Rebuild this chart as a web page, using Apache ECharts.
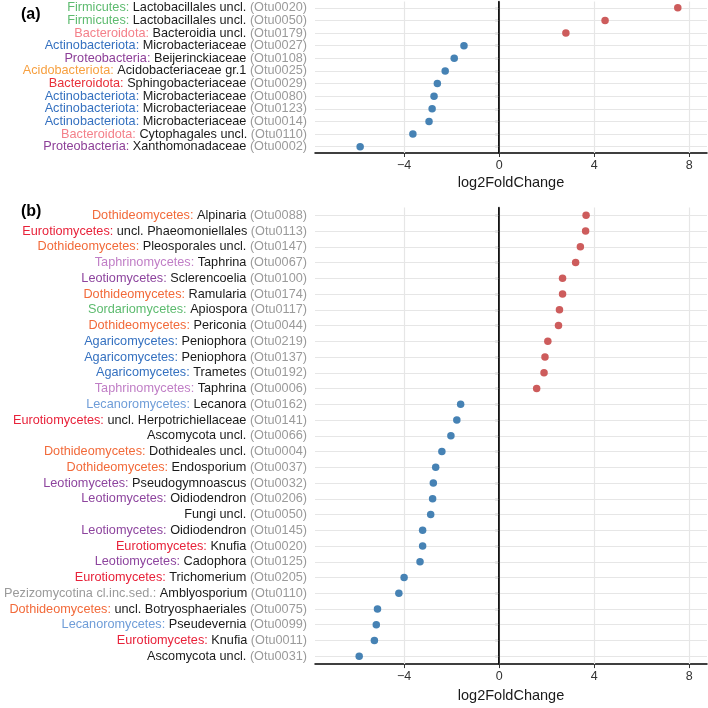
<!DOCTYPE html>
<html>
<head>
<meta charset="utf-8">
<script src="https://cdn.jsdelivr.net/npm/echarts@6/dist/echarts.min.js"></script>
<style>html,body{margin:0;padding:0;background:#fff}#c{width:708px;height:708px}</style>
</head>
<body>
<div id="c"></div>
<script>
// ---------- data: panel (a) ----------
const aClass = ['Firmicutes','Firmicutes','Bacteroidota','Actinobacteriota','Proteobacteria','Acidobacteriota','Bacteroidota','Actinobacteriota','Actinobacteriota','Actinobacteriota','Bacteroidota','Proteobacteria'];
const aTaxon = ['Lactobacillales uncl.','Lactobacillales uncl.','Bacteroidia uncl.','Microbacteriaceae','Beijerinckiaceae','Acidobacteriaceae gr.1','Sphingobacteriaceae','Microbacteriaceae','Microbacteriaceae','Microbacteriaceae','Cytophagales uncl.','Xanthomonadaceae'];
const aOtu = ['Otu0020','Otu0050','Otu0179','Otu0027','Otu0108','Otu0025','Otu0029','Otu0080','Otu0123','Otu0014','Otu0110','Otu0002'];
const aLfc = [7.52,4.46,2.81,-1.48,-1.89,-2.27,-2.60,-2.74,-2.82,-2.95,-3.63,-5.85];

// ---------- data: panel (b) ----------
const bClass = ['Dothideomycetes','Eurotiomycetes','Dothideomycetes','Taphrinomycetes','Leotiomycetes','Dothideomycetes','Sordariomycetes','Dothideomycetes','Agaricomycetes','Agaricomycetes','Agaricomycetes','Taphrinomycetes','Lecanoromycetes','Eurotiomycetes','','Dothideomycetes','Dothideomycetes','Leotiomycetes','Leotiomycetes','','Leotiomycetes','Eurotiomycetes','Leotiomycetes','Eurotiomycetes','Pezizomycotina cl.inc.sed.','Dothideomycetes','Lecanoromycetes','Eurotiomycetes',''];
const bTaxon = ['Alpinaria','uncl. Phaeomoniellales','Pleosporales uncl.','Taphrina','Sclerencoelia','Ramularia','Apiospora','Periconia','Peniophora','Peniophora','Trametes','Taphrina','Lecanora','uncl. Herpotrichiellaceae','Ascomycota uncl.','Dothideales uncl.','Endosporium','Pseudogymnoascus','Oidiodendron','Fungi uncl.','Oidiodendron','Knufia','Cadophora','Trichomerium','Amblyosporium','uncl. Botryosphaeriales','Pseudevernia','Knufia','Ascomycota uncl.'];
const bOtu = ['Otu0088','Otu0113','Otu0147','Otu0067','Otu0100','Otu0174','Otu0117','Otu0044','Otu0219','Otu0137','Otu0192','Otu0006','Otu0162','Otu0141','Otu0066','Otu0004','Otu0037','Otu0032','Otu0206','Otu0050','Otu0145','Otu0020','Otu0125','Otu0205','Otu0110','Otu0075','Otu0099','Otu0011','Otu0031'];
const bLfc = [3.66,3.64,3.42,3.22,2.67,2.67,2.54,2.50,2.05,1.93,1.89,1.58,-1.62,-1.78,-2.03,-2.41,-2.67,-2.77,-2.80,-2.88,-3.22,-3.22,-3.33,-4.00,-4.22,-5.12,-5.17,-5.25,-5.89];

const xTicks = [-4, 0, 4, 8];
const xLimits = [-7.75, 8.75];
const xTitle = 'log2FoldChange';

// ---------- styles ----------
const aLabelColors = ['#5dbb6f','#5dbb6f','#f4808a','#3571c0','#8d3f98','#f7a040','#e8303a','#3571c0','#3571c0','#3571c0','#f4808a','#8d3f98'];
const bClassColors = {
  'Dothideomycetes':'#f26a3a','Eurotiomycetes':'#e8223a','Taphrinomycetes':'#c07ec6',
  'Leotiomycetes':'#8d449e','Sordariomycetes':'#5dbb6f','Agaricomycetes':'#3571c0',
  'Lecanoromycetes':'#6f9dd8','Pezizomycotina cl.inc.sed.':'#9a9a9a'
};
const POS = '#cd5c5c', NEG = '#4682b4';
const FONT = 'Liberation Sans, Arial, sans-serif';
const LFS = 12.7;

function richFor(colors){
  const r = {
    t:{color:'#1a1a1a',fontSize:LFS,fontFamily:FONT},
    o:{color:'#9a9a9a',fontSize:LFS,fontFamily:FONT}
  };
  colors.forEach((c,i)=>{ r['k'+i] = {color:c,fontSize:LFS,fontFamily:FONT}; });
  return r;
}
const aColList = aLabelColors;
const bColList = bClass.map(c => bClassColors[c] || '#1a1a1a');

function fmt(cls, tax, otu){
  return function(v, idx){
    const i = idx;
    const pre = cls[i] ? '{k'+i+'|'+cls[i]+': }' : '';
    return pre + '{t|'+tax[i]+' }{o|('+otu[i]+')}';
  };
}

const grids = [
  {left:315, right:1, top:1.5, height:151.5},
  {left:315, right:1, top:207.5, height:461}
];

function xAxisFor(gi){
  return {
    type:'value', gridIndex:gi, min:xLimits[0], max:xLimits[1],
    axisLine:{show:true,onZero:false,lineStyle:{color:'#000',width:1.5}},
    axisTick:{show:true,length:4,customValues:xTicks,lineStyle:{color:'#333',width:1}},
    axisLabel:{customValues:xTicks,color:'#333',fontSize:12.5,fontFamily:FONT,margin:6,
      formatter:v=>String(v).replace('-','\u2212')},
    splitLine:{show:false},
    name:xTitle, nameLocation:'middle', nameGap:22,
    nameTextStyle:{color:'#1a1a1a',fontSize:14.5,fontFamily:FONT,verticalAlign:'top'}
  };
}
function yAxisFor(gi, cats, cls, tax, otu, cols){
  return {
    type:'category', gridIndex:gi, data:cats, inverse:true, boundaryGap:true,
    axisLine:{show:true,lineStyle:{color:'#000',width:1.5}},
    axisTick:{show:true,alignWithLabel:true,length:4,lineStyle:{color:'#000',width:1.2}},
    axisLabel:{interval:0,margin:8,formatter:fmt(cls,tax,otu),rich:richFor(cols)},
    splitLine:{show:false}
  };
}

function gridLines(gi, cats){
  return {
    type:'scatter', xAxisIndex:gi, yAxisIndex:gi, data:[], silent:true, z:1,
    markLine:{silent:true,symbol:'none',animation:false,label:{show:false},z:1,
      lineStyle:{color:'#e6e6e6',width:1.2,type:'solid'},
      emphasis:{disabled:true},
      data: cats.map(c=>({yAxis:c})).concat(xTicks.map(v=>({xAxis:v})))
    }
  };
}
function zeroLine(gi){
  return {
    type:'scatter', xAxisIndex:gi, yAxisIndex:gi, data:[], silent:true, z:2,
    markLine:{silent:true,symbol:'none',animation:false,label:{show:false},z:2,
      lineStyle:{color:'#000',width:1.5,type:'solid'},
      emphasis:{disabled:true},
      data:[{xAxis:0}]
    }
  };
}
function points(gi, cats, vals){
  return {
    type:'scatter', xAxisIndex:gi, yAxisIndex:gi, z:10, symbolSize:7.5,
    data: vals.map((v,i)=>({value:[v,cats[i]], itemStyle:{color: v>0?POS:NEG, opacity:1}}))
  };
}

const chart = echarts.init(document.getElementById('c'), null, {renderer:'canvas'});
chart.setOption({
  animation:false,
  backgroundColor:'#fff',
  title:[
    {text:'(a)',left:16,top:2,textStyle:{fontSize:16,fontWeight:'bold',color:'#000',fontFamily:FONT}},
    {text:'(b)',left:16,top:199,textStyle:{fontSize:16,fontWeight:'bold',color:'#000',fontFamily:FONT}}
  ],
  grid:grids,
  xAxis:[xAxisFor(0), xAxisFor(1)],
  yAxis:[yAxisFor(0,aOtu,aClass,aTaxon,aOtu,aColList), yAxisFor(1,bOtu,bClass,bTaxon,bOtu,bColList)],
  series:[gridLines(0,aOtu), zeroLine(0), points(0,aOtu,aLfc),
          gridLines(1,bOtu), zeroLine(1), points(1,bOtu,bLfc)]
});
</script>
</body>
</html>
